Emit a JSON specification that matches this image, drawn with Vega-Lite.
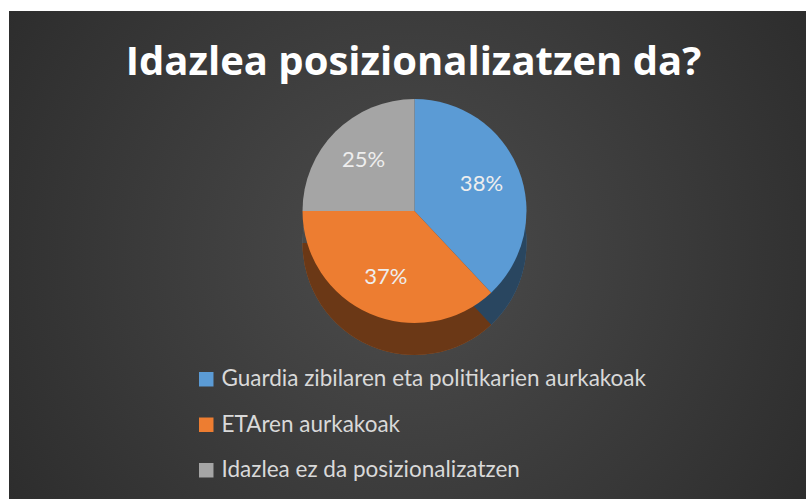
{
  "$schema": "https://vega.github.io/schema/vega-lite/v6.json",
  "width": 808,
  "height": 499,
  "autosize": {"type": "fit", "contains": "padding"},
  "padding": {"top": 11, "left": 9, "right": 2, "bottom": 0},
  "background": "white",
  "title": {
    "text": "Idazlea posizionalizatzen da?",
    "color": "white",
    "font": "Open Sans",
    "fontWeight": "bold",
    "fontSize": 40,
    "anchor": "middle",
    "frame": "group",
    "offset": -72,
    "dx": 6
  },
  "data": {
    "values": [
      {"kategoria": "Guardia zibilaren eta politikarien aurkakoak", "portzentaia": 38, "ordena": 1, "etiketa": "38%"},
      {"kategoria": "ETAren aurkakoak", "portzentaia": 37, "ordena": 2, "etiketa": "37%"},
      {"kategoria": "Idazlea ez da posizionalizatzen", "portzentaia": 25, "ordena": 3, "etiketa": "25%"}
    ]
  },
  "layer": [
    {
      "data": {"values": [{"atzealdea": 1}]},
      "mark": {
        "type": "rect",
        "fill": {
          "gradient": "radial",
          "x1": 0.5, "y1": 0.5, "r1": 0,
          "x2": 0.5, "y2": 0.5, "r2": 0.72,
          "stops": [
            {"offset": 0, "color": "#4c4c4c"},
            {"offset": 1, "color": "#262626"}
          ]
        }
      },
      "encoding": {}
    },
    {
      "mark": {"type": "arc", "outerRadius": 112, "yOffset": -12, "xOffset": 7},
      "encoding": {
        "theta": {"field": "portzentaia", "type": "quantitative", "stack": true},
        "order": {"field": "ordena", "type": "quantitative"},
        "color": {
          "field": "kategoria",
          "type": "nominal",
          "scale": {
            "domain": ["Guardia zibilaren eta politikarien aurkakoak", "ETAren aurkakoak", "Idazlea ez da posizionalizatzen"],
            "range": ["#5b9bd5", "#ed7d31", "#a5a5a5"]
          }
        }
      }
    },
    {
      "mark": {"type": "arc", "outerRadius": 112, "yOffset": -12, "xOffset": 7, "fill": "black", "fillOpacity": 0.55},
      "encoding": {
        "theta": {"field": "portzentaia", "type": "quantitative", "stack": true},
        "order": {"field": "ordena", "type": "quantitative"}
      }
    },
    {
      "mark": {"type": "arc", "outerRadius": 112, "yOffset": -44, "xOffset": 7},
      "encoding": {
        "theta": {"field": "portzentaia", "type": "quantitative", "stack": true},
        "order": {"field": "ordena", "type": "quantitative"},
        "color": {
          "field": "kategoria",
          "type": "nominal",
          "scale": {
            "domain": ["Guardia zibilaren eta politikarien aurkakoak", "ETAren aurkakoak", "Idazlea ez da posizionalizatzen"],
            "range": ["#5b9bd5", "#ed7d31", "#a5a5a5"]
          }
        }
      }
    },
    {
      "mark": {"type": "text", "radius": 72, "yOffset": -44, "xOffset": 7, "font": "Lato", "fontSize": 22, "color": "#eeeeee"},
      "encoding": {
        "theta": {"field": "portzentaia", "type": "quantitative", "stack": true},
        "order": {"field": "ordena", "type": "quantitative"},
        "text": {"field": "etiketa", "type": "nominal"}
      }
    }
  ],
  "config": {
    "view": {"stroke": null},
    "legend": {
      "title": null,
      "orient": "none",
      "legendX": 186,
      "legendY": 357,
      "direction": "vertical",
      "symbolType": "square",
      "symbolSize": 210,
      "symbolStrokeWidth": 0,
      "symbolOpacity": 1,
      "labelFont": "Lato",
      "labelFontSize": 22.5,
      "labelColor": "#d9d9d9",
      "labelOffset": 4,
      "rowPadding": 22.5,
      "padding": 0,
      "labelLimit": 600
    }
  }
}
